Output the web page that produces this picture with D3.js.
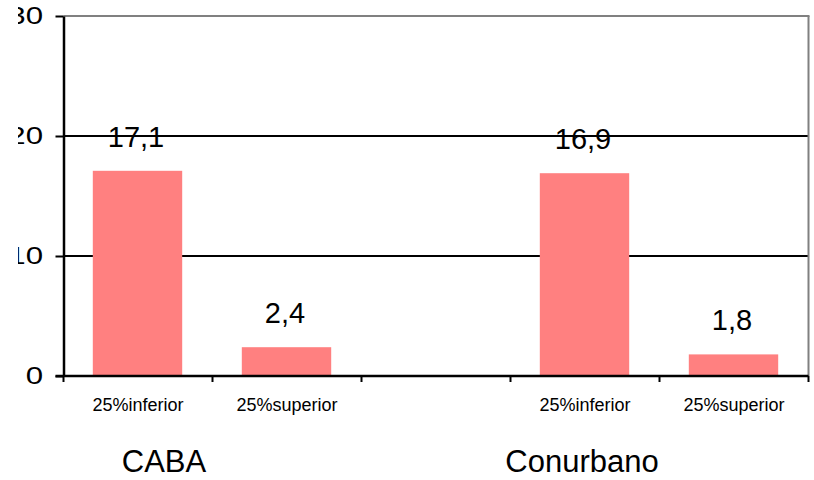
<!DOCTYPE html>
<html><head><meta charset="utf-8">
<script src="https://cdn.jsdelivr.net/npm/d3@7"></script>
<style>body{margin:0;background:#fff}svg{display:block}</style>
</head><body>
<script>
const groups = ["CABA", "Conurbano"];
const subcats = ["25%inferior", "25%superior"];
const valuesCABA = [17.1, 2.4];
const valuesConurbano = [16.9, 1.8];
const valueLabels = [["17,1", "2,4"], ["16,9", "1,8"]];
const yTicks = [0, 10, 20, 30];

(function () {
const W = 814, H = 480;
const mLeft = 63.5, mRight = 808.5, mTop = 16, mBottom = 376;
const svg = d3.select("body").append("svg").attr("width", W).attr("height", H);

svg.append("defs").append("clipPath").attr("id", "yclip")
  .append("rect").attr("x", 18).attr("y", 0).attr("width", mLeft).attr("height", H);

const slots = ["CABA|0", "CABA|1", "gap", "Conurbano|0", "Conurbano|1"];
const x = d3.scaleBand().domain(slots).range([mLeft, mRight]).padding(0);
const y = d3.scaleLinear().domain([0, 30]).range([mBottom, mTop]);

const data = [];
[valuesCABA, valuesConurbano].forEach((vals, gi) => {
  vals.forEach((v, si) => data.push({ key: groups[gi] + "|" + si, v, label: valueLabels[gi][si], sub: subcats[si] }));
});

// gridlines
svg.append("g").selectAll("line").data(yTicks.filter(t => t > 0 && t < 30)).join("line")
  .attr("x1", mLeft).attr("x2", mRight).attr("y1", d => y(d)).attr("y2", d => y(d))
  .attr("stroke", "#000").attr("stroke-width", 2);
// top & right border
svg.append("line").attr("x1", mLeft).attr("x2", mRight + 1).attr("y1", y(30)).attr("y2", y(30)).attr("stroke", "#808080").attr("stroke-width", 2);
svg.append("line").attr("x1", mRight).attr("x2", mRight).attr("y1", y(30)).attr("y2", mBottom).attr("stroke", "#808080").attr("stroke-width", 2);

// bars
const bw = x.bandwidth() * 0.6;
svg.append("g").selectAll("rect").data(data).join("rect")
  .attr("x", d => x(d.key) + (x.bandwidth() - bw) / 2 - 0.5)
  .attr("width", bw)
  .attr("y", d => y(d.v))
  .attr("height", d => mBottom - y(d.v))
  .attr("fill", "#FF8080");

// value labels
svg.append("g").selectAll("text").data(data).join("text")
  .attr("x", d => x(d.key) + x.bandwidth() / 2 - 2)
  .attr("y", d => y(d.v) - 24)
  .attr("text-anchor", "middle")
  .attr("font-family", "Liberation Sans, Arial, sans-serif")
  .attr("font-size", 29)
  .attr("fill", "#000")
  .text(d => d.label);

// y axis
const yAxis = d3.axisLeft(y).tickValues(yTicks).tickSize(8).tickPadding(12).tickSizeOuter(0);
const outer = svg.append("g").attr("clip-path", "url(#yclip)");
const ya = outer.append("g").attr("transform", `translate(${mLeft},0)`).call(yAxis);
ya.select(".domain").attr("stroke", "#000").attr("stroke-width", 2.5);
ya.selectAll(".tick line").attr("stroke", "#000").attr("stroke-width", 2);
const sx = 1.3;
ya.selectAll(".tick text")
  .attr("font-family", "Liberation Sans, Arial, sans-serif").attr("font-size", 24).attr("fill", "#000")
  .attr("x", -20.5 / sx).attr("transform", `scale(${sx},1)`);

// x axis
svg.append("line").attr("x1", mLeft - 8).attr("x2", mRight).attr("y1", mBottom).attr("y2", mBottom).attr("stroke", "#000").attr("stroke-width", 2.5);
const bounds = slots.map(s => x(s)).concat([x(slots[slots.length - 1]) + x.bandwidth()]);
svg.append("g").selectAll("line").data(bounds).join("line")
  .attr("x1", d => d).attr("x2", d => d).attr("y1", mBottom).attr("y2", mBottom + 6)
  .attr("stroke", "#000").attr("stroke-width", 2);

// category labels
svg.append("g").selectAll("text").data(data).join("text")
  .attr("x", d => x(d.key) + x.bandwidth() / 2)
  .attr("y", 411)
  .attr("text-anchor", "middle")
  .attr("font-family", "Liberation Sans, Arial, sans-serif")
  .attr("font-size", 18)
  .attr("fill", "#000")
  .text(d => d.sub);

// group labels
const groupLabelX = [164, 582];
svg.append("g").selectAll("text").data(groups).join("text")
  .attr("x", (d, i) => groupLabelX[i])
  .attr("y", 472)
  .attr("text-anchor", "middle")
  .attr("font-family", "Liberation Sans, Arial, sans-serif")
  .attr("font-size", 31)
  .attr("fill", "#000")
  .text(d => d);
})();
</script>
</body></html>
